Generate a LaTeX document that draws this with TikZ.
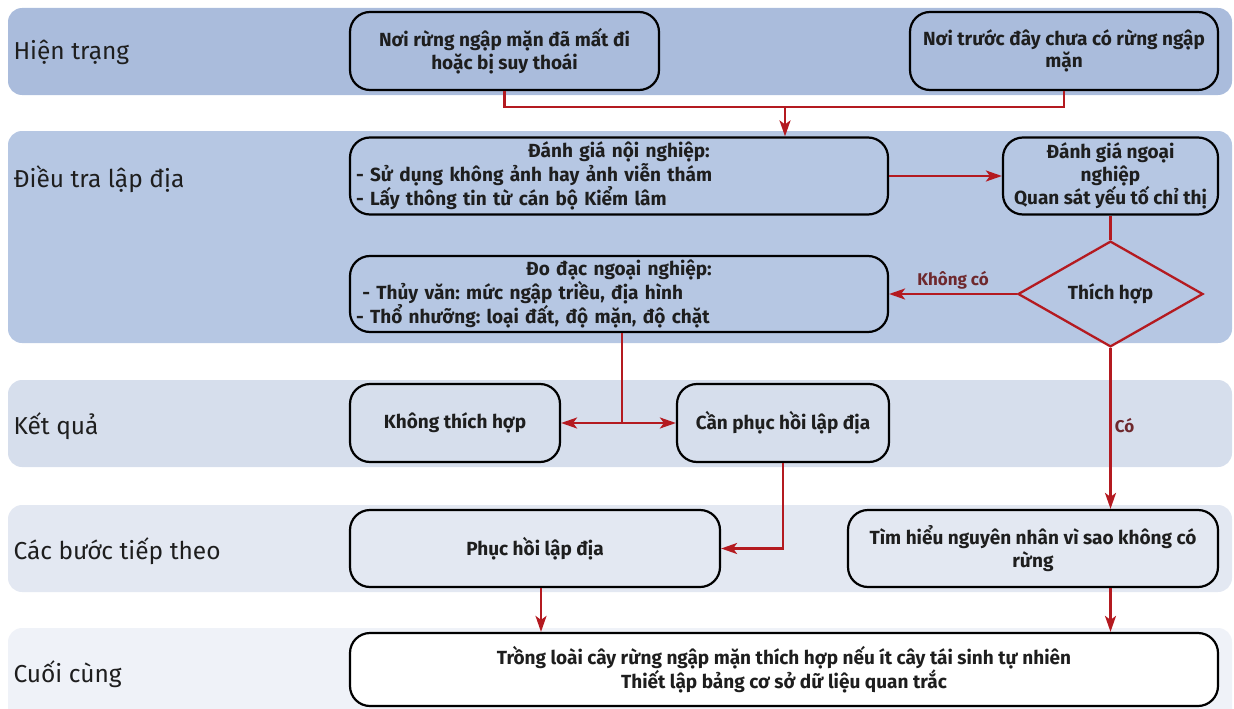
\documentclass[tikz,border=0pt]{standalone}
\usepackage{fontspec}
\setmainfont{Fira Sans}
\usetikzlibrary{arrows.meta,shapes.geometric}
\definecolor{bandA}{RGB}{170,188,220}
\definecolor{bandB}{RGB}{182,199,227}
\definecolor{bandC}{RGB}{214,222,236}
\definecolor{bandD}{RGB}{227,232,242}
\definecolor{bandE}{RGB}{239,242,248}
\definecolor{flowred}{RGB}{180,26,32}
\definecolor{labred}{RGB}{110,40,45}
\definecolor{ink}{RGB}{30,30,30}
\frenchspacing
\begin{document}
\begin{tikzpicture}[x=1pt,y=-1pt,
  band/.style={rounded corners=14pt},
  lane/.style={anchor=west, font=\fontsize{24.5}{28}\selectfont, text=ink},
  box/.style={draw=black, line width=2.2pt, rounded corners=20pt, align=center,
    inner sep=0pt, text=ink, font=\bfseries\fontsize{19}{22.5}\selectfont},
  flow/.style={draw=flowred, line width=2.3pt, -{Stealth[length=16pt,width=11pt,inset=4pt]}},
  line/.style={draw=flowred, line width=2.3pt},
  cond/.style={font=\bfseries\fontsize{17}{20}\selectfont, text=labred}
]
\useasboundingbox (0,0) rectangle (1234,709);
% bands
\fill[bandA,band] (8,8) rectangle (1232,95);
\fill[bandB,band] (8,131) rectangle (1232,343);
\fill[bandC,band] (8,380) rectangle (1232,467);
\fill[bandD,band] (8,505) rectangle (1232,592);
\fill[bandE,band] (8,628) rectangle (1232,740);
% lane labels
\node[lane] (l1) at (10,52) {Hiện trạng};
\node[lane] (l2) at (10,179) {Điều tra lập địa};
\node[lane] (l3) at (10,426) {Kết quả};
\node[lane] (l4) at (10,551) {Các bước tiếp theo};
\node[lane] (l5) at (10,674) {Cuối cùng};
% nodes
\node[box, fill=bandA, minimum width=309pt, minimum height=78pt] (n1) at (504.5,51)
  {Nơi rừng ngập mặn đã mất đi\\hoặc bị suy thoái};
\node[box, fill=bandA, minimum width=308pt, minimum height=78pt] (n2) at (1064,51)
  {Nơi trước đây chưa có rừng ngập\\mặn};
\node[box, fill=bandB, minimum width=538pt, minimum height=77pt, text width=526pt, align=left] (n3) at (619,176)
  {\makebox[\hsize][c]{Đánh giá nội nghiệp:}\\- Sử dụng không ảnh hay ảnh viễn thám\\- Lấy thông tin từ cán bộ Kiểm lâm};
\node[box, fill=bandB, minimum width=215pt, minimum height=77pt] (n4) at (1110.5,176)
  {Đánh giá ngoại\\nghiệp\\Quan sát yếu tố chỉ thị};
\node[diamond, draw=flowred, line width=2.3pt, fill=bandB, minimum width=185pt, minimum height=104pt,
  inner sep=0pt, text=ink, font=\bfseries\fontsize{19}{22}\selectfont] (d) at (1110.5,294) {Thích hợp};
\node[box, fill=bandB, minimum width=538pt, minimum height=76pt, text width=526pt, align=left] (n5) at (619,294)
  {\makebox[\hsize][c]{Đo đạc ngoại nghiệp:}\\\ - Thủy văn: mức ngập triều, địa hình\\- Thổ nhưỡng: loại đất, độ mặn, độ chặt};
\node[box, fill=bandC, minimum width=210pt, minimum height=78pt] (n6) at (455,423) {Không thích hợp};
\node[box, fill=bandC, minimum width=212pt, minimum height=78pt] (n7) at (783,423) {Cần phục hồi lập địa};
\node[box, fill=bandD, minimum width=370pt, minimum height=77pt] (n8) at (535,548.5) {Phục hồi lập địa};
\node[box, fill=bandD, minimum width=370pt, minimum height=77pt] (n9) at (1033,548.5)
  {Tìm hiểu nguyên nhân vì sao không có\\rừng};
\node[box, fill=white, minimum width=868pt, minimum height=73pt] (n10) at (784,669.5)
  {Trồng loài cây rừng ngập mặn thích hợp nếu ít cây tái sinh tự nhiên\\Thiết lập bảng cơ sở dữ liệu quan trắc};
% connectors
\coordinate (j) at (785,107);
\draw[line] (n1.south) |- (j) -| (n2.south);
\draw[flow] (j) -- (j |- n3.north);
\draw[flow] (n3.east) -- (n3.east -| n4.west);
\draw[line] (n4.south) -- (d.north);
\draw[flow] (d.west) -- (d.west -| n5.east) node[cond, midway, above=0pt] (t1) {Không có};
\coordinate (k) at (622,423);
\draw[line] (n5.south -| k) -- (k);
\draw[flow] (k) -- (n6.east);
\draw[flow] (k) -- (n7.west);
\draw[flow] (n7.south) |- (n8.east);
\draw[flow] (d.south) -- (d.south |- n9.north) node[cond, pos=0.48, anchor=west, xshift=0pt] (t2) {Có};
\draw[flow] (n8.south -| 541,0) -- (n10.north -| 541,0);
\draw[flow] (n9.south -| d.south) -- (n10.north -| d.south);
\end{tikzpicture}
\end{document}
